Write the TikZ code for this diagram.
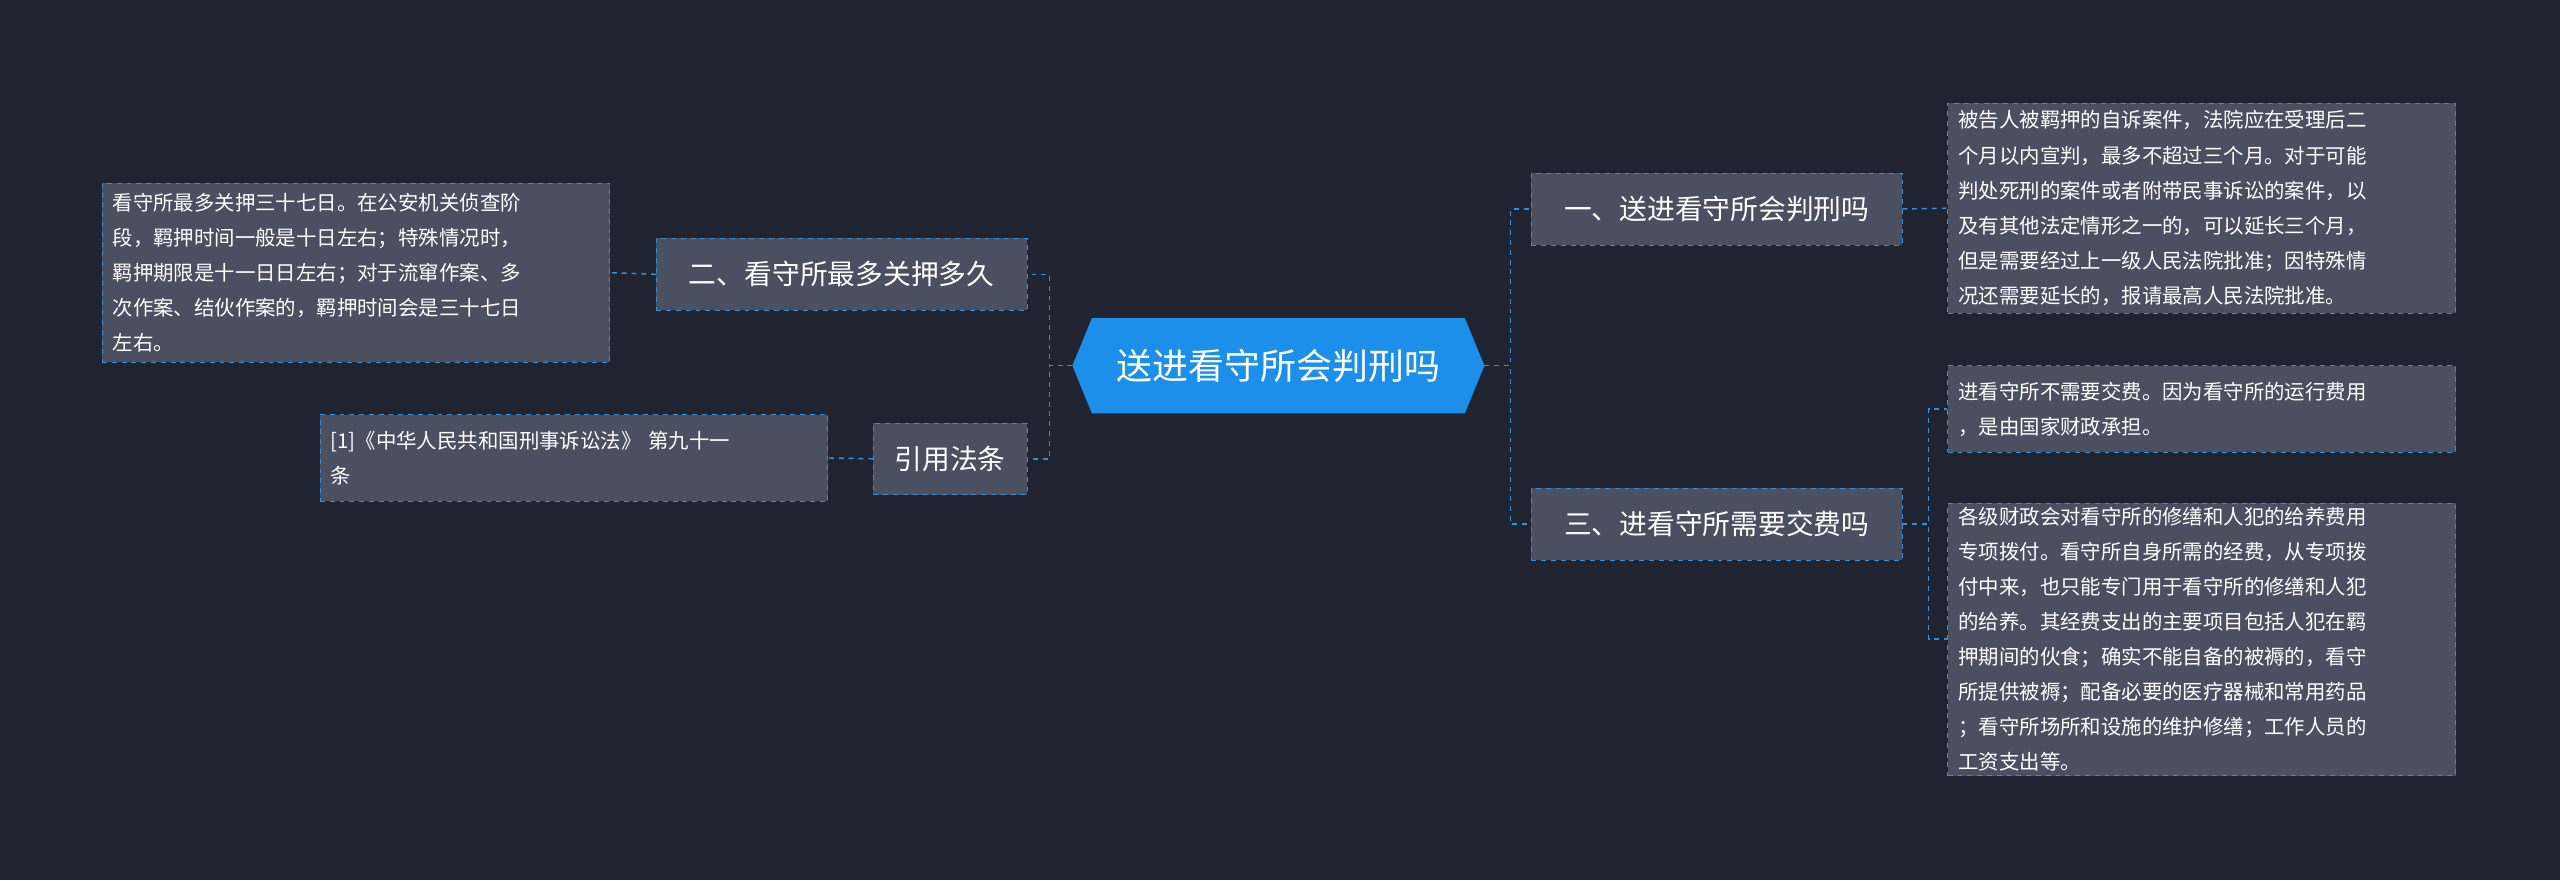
\documentclass[tikz,border=0pt]{standalone}
\usepackage{fontspec}
\setmainfont{Noto Sans CJK SC}
\usetikzlibrary{calc}
\definecolor{bg}{HTML}{1F2430}
\definecolor{boxgray}{HTML}{4A5060}
\definecolor{linkblue}{HTML}{2F8FE0}
\definecolor{rootblue}{HTML}{1C8FEA}
\tikzset{
  topic/.style={draw=linkblue, dashed, fill=boxgray, text=white, font=\fontsize{17}{20}\selectfont, inner sep=0pt, minimum height=44pt},
  leaf/.style={draw=linkblue, dashed, fill=boxgray, text=white, font=\fontsize{12.5}{21.5}\selectfont, align=left, inner xsep=6pt, inner ysep=0pt, minimum width=311pt, text width=298pt},
  link/.style={draw=linkblue, dashed, line width=0.9pt}
}
\begin{document}
\begin{tikzpicture}[x=1pt,y=-1pt]
            \fill[bg] (0,0) rectangle (1568,539);
            \useasboundingbox (0,0) rectangle (1568,539);
            \node[minimum width=228pt, minimum height=58pt, inner sep=0pt] (root) at (783,224) {};
            \fill[rootblue] (root.north west) -- ($(root.west)+(-12,0)$) coordinate (rootw) -- (root.south west) -- (root.south east) -- ($(root.east)+(12,0)$) coordinate (roote) -- (root.north east) -- cycle;
            \node[text=white, font=\fontsize{22}{26}\selectfont] (roottext) at (root.center) {送进看守所会判刑吗};
            \node[topic, minimum width=227pt] (limit) at (515.5,168) {二、看守所最多关押多久};
            \node[topic, minimum width=94pt] (law) at (582,281) {引用法条};
            \node[topic, minimum width=227pt] (trial) at (1051.5,128) {一、送进看守所会判刑吗};
            \node[topic, minimum width=227pt] (fee) at (1051.5,321) {三、进看守所需要交费吗};
            \node[leaf, minimum height=110pt] (limittext) at (218,167) {看守所最多关押三十七日。在公安机关侦查阶\\段，羁押时间一般是十日左右；特殊情况时，\\羁押期限是十一日日左右；对于流窜作案、多\\次作案、结伙作案的，羁押时间会是三十七日\\左右。};
            \node[leaf, minimum height=53pt] (lawtext) at (351.5,280.5) {[1]《中华人民共和国刑事诉讼法》 第九十一\\条};
            \node[leaf, minimum height=129pt] (trialtext) at (1348.5,127.5) {被告人被羁押的自诉案件，法院应在受理后二\\个月以内宣判，最多不超过三个月。对于可能\\判处死刑的案件或者附带民事诉讼的案件，以\\及有其他法定情形之一的，可以延长三个月，\\但是需要经过上一级人民法院批准；因特殊情\\况还需要延长的，报请最高人民法院批准。};
            \node[leaf, minimum height=53pt] (feetext) at (1348.5,250.5) {进看守所不需要交费。因为看守所的运行费用\\，是由国家财政承担。};
            \node[leaf, minimum height=167pt] (costtext) at (1348.5,391.5) {各级财政会对看守所的修缮和人犯的给养费用\\专项拨付。看守所自身所需的经费，从专项拨\\付中来，也只能专门用于看守所的修缮和人犯\\的给养。其经费支出的主要项目包括人犯在羁\\押期间的伙食；确实不能自备的被褥的，看守\\所提供被褥；配备必要的医疗器械和常用药品\\；看守所场所和设施的维护修缮；工作人员的\\工资支出等。};
            % left side
            \draw[link] (rootw) -- ++(-14,0) |- (limit.east);
            \draw[link] (rootw) -- ++(-14,0) |- (law.east);
            \draw[link] (limit.west) -- (limittext.east);
            \draw[link] (law.west) -- (lawtext.east);
            % right side
            \draw[link] (roote) -- ++(16,0) |- (trial.west);
            \draw[link] (roote) -- ++(16,0) |- (fee.west);
            \draw[link] (trial.east) -- (trialtext.west);
            \draw[link] (fee.east) -- ++(16,0) |- (feetext.west);
            \draw[link] (fee.east) -- ++(16,0) |- (costtext.west);
        \end{tikzpicture}
\end{document}
